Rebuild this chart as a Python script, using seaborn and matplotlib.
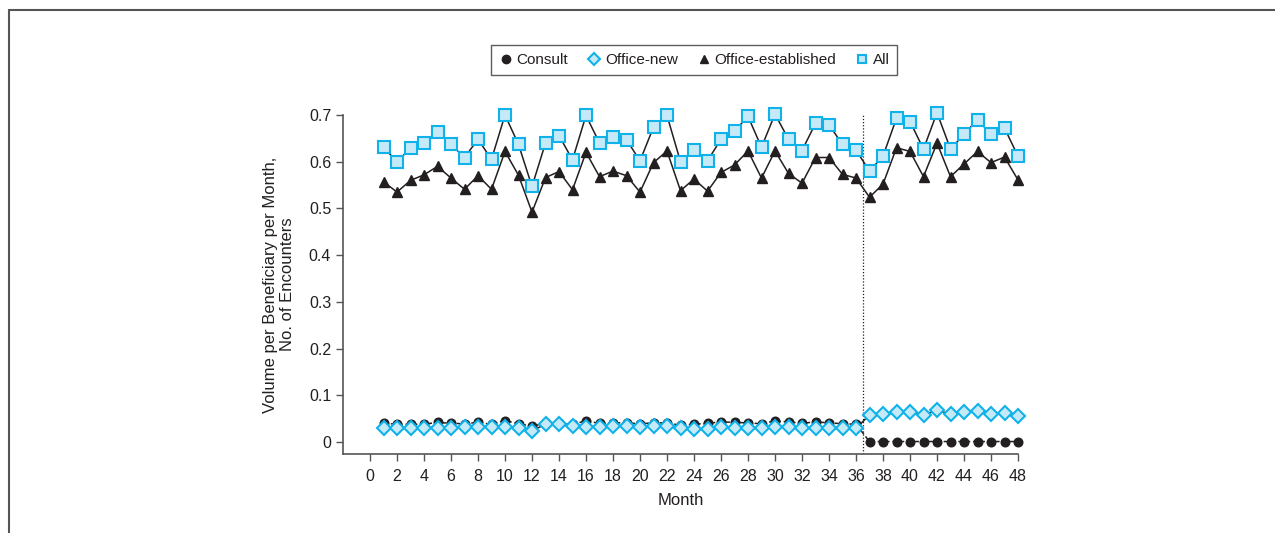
import numpy as np
import pandas as pd
import matplotlib
matplotlib.use("Agg")
import matplotlib.pyplot as plt
from matplotlib.lines import Line2D
from matplotlib import font_manager
import seaborn as sns

months = list(range(1, 49))

consult = [0.040, 0.038, 0.038, 0.038, 0.042, 0.040, 0.039, 0.042, 0.038, 0.046,
           0.039, 0.034, 0.040, 0.040, 0.038, 0.045, 0.040, 0.041, 0.041, 0.039,
           0.041, 0.041, 0.036, 0.038, 0.040, 0.043, 0.042, 0.041, 0.039, 0.045,
           0.043, 0.040, 0.043, 0.041, 0.039, 0.038,
           0.001, 0.001, 0.001, 0.001, 0.001, 0.001, 0.001, 0.001, 0.001, 0.001,
           0.001, 0.001]

office_new = [0.031, 0.031, 0.031, 0.031, 0.031, 0.031, 0.033, 0.033, 0.033, 0.033,
              0.031, 0.024, 0.038, 0.038, 0.035, 0.033, 0.033, 0.034, 0.034, 0.033,
              0.034, 0.034, 0.029, 0.027, 0.027, 0.033, 0.031, 0.031, 0.031, 0.033,
              0.033, 0.031, 0.031, 0.031, 0.031, 0.029,
              0.058, 0.060, 0.065, 0.065, 0.058, 0.068, 0.060, 0.065, 0.066, 0.060,
              0.063, 0.056]

office_est = [0.557, 0.535, 0.560, 0.572, 0.590, 0.565, 0.541, 0.570, 0.541, 0.622,
              0.571, 0.492, 0.566, 0.579, 0.540, 0.620, 0.568, 0.580, 0.570, 0.535,
              0.598, 0.623, 0.538, 0.563, 0.537, 0.577, 0.593, 0.623, 0.565, 0.623,
              0.575, 0.554, 0.609, 0.609, 0.573, 0.565, 0.524, 0.552, 0.630, 0.622,
              0.568, 0.640, 0.568, 0.595, 0.622, 0.598, 0.610, 0.561]

all_enc = [0.631, 0.600, 0.629, 0.640, 0.663, 0.637, 0.609, 0.648, 0.605, 0.700,
           0.637, 0.547, 0.640, 0.656, 0.604, 0.699, 0.640, 0.652, 0.647, 0.602,
           0.674, 0.699, 0.600, 0.625, 0.602, 0.648, 0.666, 0.697, 0.631, 0.702,
           0.648, 0.624, 0.682, 0.679, 0.637, 0.625, 0.580, 0.612, 0.693, 0.686,
           0.627, 0.705, 0.627, 0.659, 0.690, 0.659, 0.672, 0.612]

series_names = ["Consult", "Office-new", "Office-established", "All"]
x_ticks = list(range(0, 49, 2))
y_ticks = [0, 0.1, 0.2, 0.3, 0.4, 0.5, 0.6, 0.7]
y_tick_labels = ["0", "0.1", "0.2", "0.3", "0.4", "0.5", "0.6", "0.7"]

sns.set_theme(style="white")
avail = {f.name for f in font_manager.fontManager.ttflist}
fam = "Liberation Sans Narrow" if "Liberation Sans Narrow" in avail else "Liberation Sans"
plt.rcParams["font.family"] = [fam, "DejaVu Sans"]

txt = "#231f20"
blue_face = "#c6e9f8"
blue_edge = "#10b2ea"

df = pd.DataFrame({"Month": months, "Consult": consult, "Office-new": office_new,
                   "Office-established": office_est, "All": all_enc})

fig = plt.figure(figsize=(12.75, 5.33), dpi=100)
ax = fig.add_axes([343 / 1275, 1 - 454 / 533, (1018 - 343) / 1275, (454 - 115) / 533])

styles = {
    "Consult": dict(marker="o", markersize=6.2, markerfacecolor=txt, markeredgecolor=txt,
                    linestyle=(0, (3, 1.8)), zorder=3),
    "Office-new": dict(marker="D", markersize=6.8, markerfacecolor=blue_face, markeredgecolor=blue_edge,
                       markeredgewidth=1.5, linestyle="-", zorder=4),
    "Office-established": dict(marker="^", markersize=7.0, markerfacecolor=txt,
                               markeredgecolor=txt, linestyle="-", zorder=3),
    "All": dict(marker="s", markersize=8.2, markerfacecolor=blue_face, markeredgecolor=blue_edge,
                markeredgewidth=1.5, linestyle="-", zorder=4),
}

for name in series_names:
    st = styles[name]
    sns.lineplot(data=df, x="Month", y=name, ax=ax, color=txt, linewidth=1.1,
                 marker=st["marker"], markersize=st["markersize"],
                 markerfacecolor=st["markerfacecolor"], markeredgecolor=st["markeredgecolor"],
                 markeredgewidth=st.get("markeredgewidth", 1.0),
                 linestyle=st["linestyle"], zorder=st["zorder"], clip_on=False, legend=False)

ax.axvline(36.5, color=txt, linestyle=(0, (1, 1.5)), linewidth=0.9, zorder=2)

ax.set_xlim(-2, 48)
ax.set_ylim(-0.0257, 0.7)
ax.set_xticks(x_ticks)
ax.set_xticklabels([str(t) for t in x_ticks])
ax.set_yticks(y_ticks)
ax.set_yticklabels(y_tick_labels)
ax.tick_params(axis="both", which="both", direction="out", length=5, width=1,
               color="#555555", labelsize=11.5, labelcolor=txt, bottom=True, left=True)
ax.tick_params(axis="x", pad=6)
for s in ["top", "right"]:
    ax.spines[s].set_visible(False)
for s in ["left", "bottom"]:
    ax.spines[s].set_color("#555555")
    ax.spines[s].set_linewidth(1.2)
ax.spines["left"].set_bounds(-0.0257, 0.7)
ax.set_xlabel("Month", fontsize=12, color=txt, labelpad=6)
ax.set_ylabel("Volume per Beneficiary per Month,\nNo. of Encounters", fontsize=12,
              color=txt, labelpad=10)

handles = [
    Line2D([], [], linestyle="none", marker="o", markersize=6, markerfacecolor=txt,
           markeredgecolor=txt),
    Line2D([], [], linestyle="none", marker="D", markersize=6, markerfacecolor=blue_face,
           markeredgecolor=blue_edge, markeredgewidth=1.5),
    Line2D([], [], linestyle="none", marker="^", markersize=6, markerfacecolor=txt,
           markeredgecolor=txt),
    Line2D([], [], linestyle="none", marker="s", markersize=6, markerfacecolor=blue_face,
           markeredgecolor=blue_edge, markeredgewidth=1.5),
]
leg = fig.legend(handles, series_names, loc="center", bbox_to_anchor=(694 / 1275, 1 - 60 / 533),
                 ncol=4, frameon=True, fancybox=False, fontsize=11, handletextpad=0.2,
                 columnspacing=1.2, handlelength=1.0, borderpad=0.5, borderaxespad=0)
leg.get_frame().set_edgecolor("#333333")
leg.get_frame().set_linewidth(1.0)
for t in leg.get_texts():
    t.set_color(txt)

fig.add_artist(Line2D([9 / 1275, 1.0], [1 - 10 / 533, 1 - 10 / 533], color="#555555",
                      linewidth=1.5, transform=fig.transFigure))
fig.add_artist(Line2D([9 / 1275, 9 / 1275], [0, 1 - 10 / 533], color="#555555",
                      linewidth=1.5, transform=fig.transFigure))

fig.savefig("out.png", dpi=100)
